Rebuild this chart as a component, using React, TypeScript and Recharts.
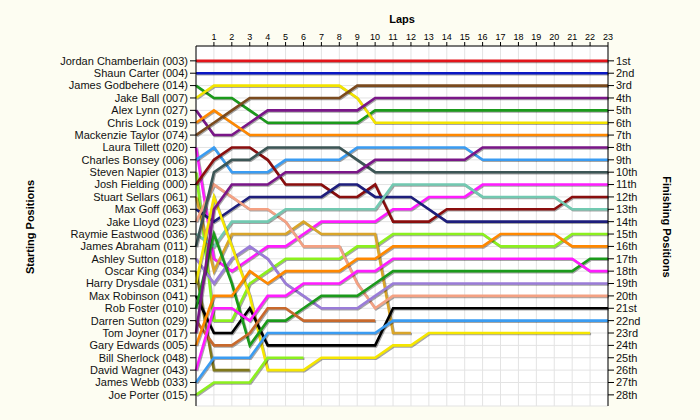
import React from "react"
import { CartesianGrid, Line, LineChart, XAxis, YAxis } from "recharts"

const laps = [0, 1, 2, 3, 4, 5, 6, 7, 8, 9, 10, 11, 12, 13, 14, 15, 16, 17, 18, 19, 20, 21, 22, 23]
const lapTicks = [1, 2, 3, 4, 5, 6, 7, 8, 9, 10, 11, 12, 13, 14, 15, 16, 17, 18, 19, 20, 21, 22, 23]
const positionTicks = [1, 2, 3, 4, 5, 6, 7, 8, 9, 10, 11, 12, 13, 14, 15, 16, 17, 18, 19, 20, 21, 22, 23, 24, 25, 26, 27, 28]

const startNames = [
  "Jordan Chamberlain (003)",
  "Shaun Carter (004)",
  "James Godbehere (014)",
  "Jake Ball (007)",
  "Alex Lynn (027)",
  "Chris Lock (019)",
  "Mackenzie Taylor (074)",
  "Laura Tillett (020)",
  "Charles Bonsey (006)",
  "Steven Napier (013)",
  "Josh Fielding (000)",
  "Stuart Sellars (061)",
  "Max Goff (063)",
  "Jake Lloyd (023)",
  "Raymie Eastwood (036)",
  "James Abraham (011)",
  "Ashley Sutton (018)",
  "Oscar King (034)",
  "Harry Drysdale (031)",
  "Max Robinson (041)",
  "Rob Foster (010)",
  "Darren Sutton (029)",
  "Tom Joyner (017)",
  "Gary Edwards (005)",
  "Bill Sherlock (048)",
  "David Wagner (043)",
  "James Webb (033)",
  "Joe Porter (015)",
]

const finishLabels = [
  "1st", "2nd", "3rd", "4th", "5th", "6th", "7th", "8th", "9th", "10th",
  "11th", "12th", "13th", "14th", "15th", "16th", "17th", "18th", "19th", "20th",
  "21st", "22nd", "23rd", "24th", "25th", "26th", "27th", "28th",
]

const lineColors = [
  "#e3141b", "#0a18c4", "#1b9a1b", "#f2e300", "#7a1688", "#ff8800", "#7a4a1e",
  "#ff1cff", "#3a9cf2", "#8cf01e", "#8a0e0e", "#d9a52a", "#1e1e7c", "#f4a183",
  "#72c9b1", "#3c5656", "#9a7cd8", "#80781a", "#f5e600", "#000000", "#1b9a1b",
  "#c8692c", "#7a1688", "#ff8800", "#7a4a1e", "#ff1cff", "#3a9cf2", "#8cf01e",
]

// position at each lap, 0..23 (null = retired)
const chamberlain = [1, 1, 1, 1, 1, 1, 1, 1, 1, 1, 1, 1, 1, 1, 1, 1, 1, 1, 1, 1, 1, 1, 1, 1]
const carter = [2, 2, 2, 2, 2, 2, 2, 2, 2, 2, 2, 2, 2, 2, 2, 2, 2, 2, 2, 2, 2, 2, 2, 2]
const godbehere = [3, 4, 4, 5, 6, 6, 6, 6, 6, 6, 5, 5, 5, 5, 5, 5, 5, 5, 5, 5, 5, 5, 5, 5]
const ball = [4, 3, 3, 3, 3, 3, 3, 3, 3, 4, 6, 6, 6, 6, 6, 6, 6, 6, 6, 6, 6, 6, 6, 6]
const lynn = [5, 7, 7, 6, 5, 5, 5, 5, 5, 5, 4, 4, 4, 4, 4, 4, 4, 4, 4, 4, 4, 4, 4, 4]
const lock = [6, 5, 6, 7, 7, 7, 7, 7, 7, 7, 7, 7, 7, 7, 7, 7, 7, 7, 7, 7, 7, 7, 7, 7]
const taylor = [7, 6, 5, 4, 4, 4, 4, 4, 4, 3, 3, 3, 3, 3, 3, 3, 3, 3, 3, 3, 3, 3, 3, 3]
const tillett = [8, 17, 18, 17, 16, 16, 15, 14, 14, 14, 14, 13, 13, 12, 12, 12, 11, 11, 11, 11, 11, 11, 11, 11]
const bonsey = [9, 8, 10, 10, 10, 9, 9, 9, 9, 8, 8, 8, 8, 8, 8, 8, 9, 9, 9, 9, 9, 9, 9, 9]
const napier = [10, 22, 22, 19, 18, 17, 17, 17, 17, 16, 16, 15, 15, 15, 15, 15, 15, 16, 16, 16, 16, 15, 15, 15]
const fielding = [11, 9, 8, 8, 9, 11, 11, 11, 12, 12, 11, 14, 14, 14, 13, 13, 13, 13, 13, 13, 13, 12, 12, 12]
const sellars = [12, 18, 15, 15, 15, 15, 14, 15, 15, 15, 15, 23, 23, null, null, null, null, null, null, null, null, null, null, null]
const goff = [13, 14, 13, 12, 12, 12, 12, 12, 11, 11, 12, 12, 12, 13, 14, 14, 14, 14, 14, 14, 14, 14, 14, 14]
const lloyd = [14, 11, 12, 13, 13, 14, 16, 16, 16, 19, 21, 20, 20, 20, 20, 20, 20, 20, 20, 20, 20, 20, 20, 20]
const eastwood = [15, 16, 14, 14, 14, 13, 13, 13, 13, 13, 13, 11, 11, 11, 11, 11, 12, 12, 12, 12, 12, 13, 13, 13]
const abraham = [16, 10, 9, 9, 8, 8, 8, 8, 8, 9, 10, 10, 10, 10, 10, 10, 10, 10, 10, 10, 10, 10, 10, 10]
const aSutton = [17, 19, 17, 16, 17, 19, 20, 21, 21, 21, 20, 19, 19, 19, 19, 19, 19, 19, 19, 19, 19, 19, 19, 19]
const king = [18, 26, 26, 26, null, null, null, null, null, null, null, null, null, null, null, null, null, null, null, null, null, null, null, null]
const drysdale = [19, 12, 16, 20, 26, 26, 26, 25, 25, 25, 25, 24, 24, 23, 23, 23, 23, 23, 23, 23, 23, 23, 23, null]
const robinson = [20, 23, 23, 21, 24, 24, 24, 24, 24, 24, 24, 21, 21, 21, 21, 21, 21, 21, 21, 21, 21, 21, 21, 21]
const foster = [21, 15, 19, 24, 22, 22, 21, 20, 20, 20, 19, 18, 18, 18, 18, 18, 18, 18, 18, 18, 18, 18, 17, 17]
const dSutton = [22, 24, 24, 23, 21, 21, 22, 22, 22, 22, 22, null, null, null, null, null, null, null, null, null, null, null, null, null]
const joyner = [23, 13, 11, 11, 11, 10, 10, 10, 10, 10, 9, 9, 9, 9, 9, 9, 8, 8, 8, 8, 8, 8, 8, 8]
const edwards = [24, 20, 20, 18, 19, 18, 18, 18, 18, 17, 17, 16, 16, 16, 16, 16, 16, 15, 15, 15, 15, 16, 16, 16]
const sherlock = [25, null, null, null, null, null, null, null, null, null, null, null, null, null, null, null, null, null, null, null, null, null, null, null]
const wagner = [26, 21, 21, 22, 20, 20, 19, 19, 19, 18, 18, 17, 17, 17, 17, 17, 17, 17, 17, 17, 17, 17, 18, 18]
const webb = [27, 25, 25, 25, 23, 23, 23, 23, 23, 23, 23, 22, 22, 22, 22, 22, 22, 22, 22, 22, 22, 22, 22, 22]
const porter = [28, 27, 27, 27, 25, 25, 25, null, null, null, null, null, null, null, null, null, null, null, null, null, null, null, null, null]

const drivers = [
  chamberlain, carter, godbehere, ball, lynn, lock, taylor, tillett, bonsey, napier,
  fielding, sellars, goff, lloyd, eastwood, abraham, aSutton, king, drysdale, robinson,
  foster, dSutton, joyner, edwards, sherlock, wagner, webb, porter,
]

const rows = laps.map((lap, i) => {
  const row: Record<string, number | null> = { lap }
  drivers.forEach((d, k) => {
    row["d" + k] = d[i]
  })
  return row
})

const font = '"Liberation Sans", Arial, sans-serif'
const domain: [number, number] = [-0.2, 28.9]

export default function App() {
  return (
    <div style={{ position: "fixed", left: 0, top: 0, width: 700, height: 420, background: "#fdfdf2", fontFamily: font }}>
      <style>{`.recharts-line-curve{filter:drop-shadow(1px 1.5px 0.6px rgba(0,0,0,0.35))}`}</style>
      <LineChart width={700} height={420} data={rows} margin={{ top: 0, right: 0, bottom: 14, left: 0 }}>
        <CartesianGrid yAxisId="left" stroke="#e3e3e3" fill="#ffffff" />
        <XAxis
          dataKey="lap"
          type="number"
          domain={[0, 23]}
          ticks={lapTicks}
          interval={0}
          orientation="top"
          height={46}
          tickSize={4}
          axisLine={{ stroke: "#000" }}
          tickLine={{ stroke: "#000" }}
          tick={{ fontSize: 9, fill: "#000", fontFamily: font }}
        />
        <YAxis
          yAxisId="left"
          type="number"
          domain={domain}
          reversed
          allowDataOverflow
          ticks={positionTicks}
          interval={0}
          width={196}
          tickSize={6}
          axisLine={{ stroke: "#000" }}
          tickLine={{ stroke: "#000" }}
          tickFormatter={(v: number) => startNames[v - 1]}
          tick={{ fontSize: 11, fill: "#111", fontFamily: font }}
        />
        <YAxis
          yAxisId="right"
          orientation="right"
          type="number"
          domain={domain}
          reversed
          allowDataOverflow
          ticks={positionTicks}
          interval={0}
          width={92}
          tickSize={6}
          axisLine={{ stroke: "#000" }}
          tickLine={{ stroke: "#000" }}
          tickFormatter={(v: number) => finishLabels[v - 1]}
          tick={{ fontSize: 11, fill: "#111", fontFamily: font }}
        />
        {drivers.map((_, k) => (
          <Line
            key={k}
            yAxisId="left"
            dataKey={"d" + k}
            type="linear"
            stroke={lineColors[k]}
            strokeWidth={2.6}
            dot={false}
            activeDot={false}
            isAnimationActive={false}
          />
        ))}
      </LineChart>
      <div style={{ position: "absolute", left: 196, width: 412, top: 13, textAlign: "center", fontSize: 11, fontWeight: "bold" }}>
        Laps
      </div>
      <div
        style={{
          position: "absolute",
          left: 30,
          top: 227,
          transform: "translate(-50%, -50%) rotate(-90deg)",
          whiteSpace: "nowrap",
          fontSize: 11,
          fontWeight: "bold",
        }}
      >
        Starting Positions
      </div>
      <div
        style={{
          position: "absolute",
          left: 667,
          top: 227,
          transform: "translate(-50%, -50%) rotate(90deg)",
          whiteSpace: "nowrap",
          fontSize: 11,
          fontWeight: "bold",
        }}
      >
        Finishing Positions
      </div>
    </div>
  )
}
